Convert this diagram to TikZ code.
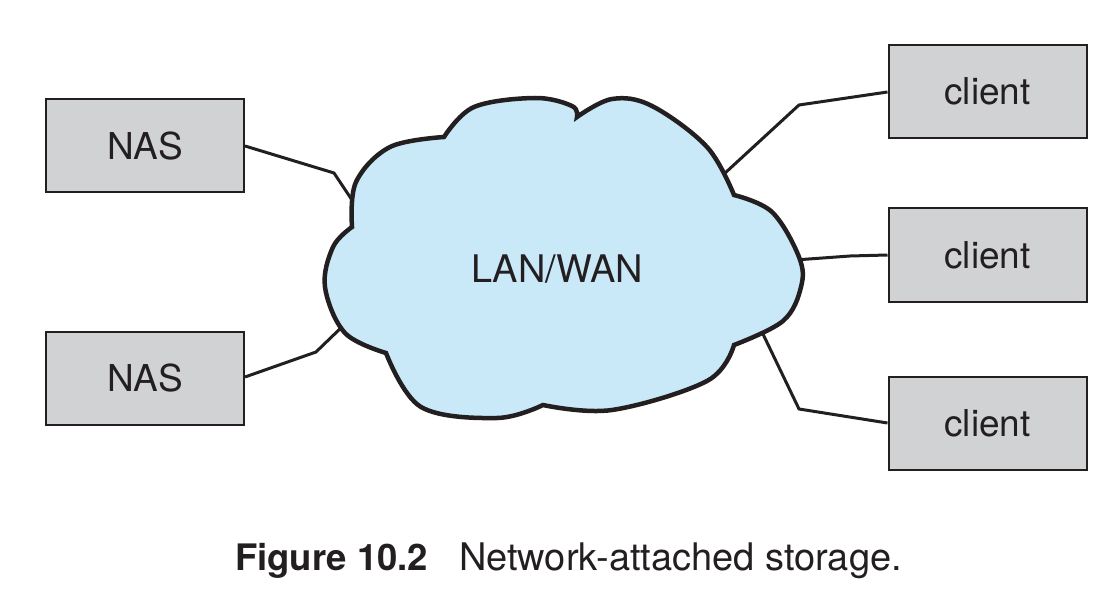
\documentclass[tikz,border=0pt]{standalone}
\usepackage{fontspec}
\setmainfont{TeX Gyre Heros}
\definecolor{cloudfill}{HTML}{C9E9F8}
\definecolor{boxfill}{HTML}{D1D2D4}
\definecolor{ink}{HTML}{231F20}
\begin{document}
\begin{tikzpicture}[x=1pt,y=-1pt,
  devbox/.style={draw=ink, line width=2pt, fill=boxfill, minimum width=198pt, minimum height=93pt, inner sep=0pt, font=\fontsize{37}{42}\selectfont, text=ink},
  link/.style={draw=ink, line width=3pt, line join=miter},
  cloudline/.style={draw=ink, line width=4.5pt, fill=cloudfill, line join=miter}]
\useasboundingbox (0,0) rectangle (1114,596);
% devices
\node[devbox] (nas1) at (145,146) {NAS};
\node[devbox] (nas2) at (145,378) {NAS};
\node[devbox] (c1) at (987.5,91.5) {client};
\node[devbox] (c2) at (987.5,255) {client};
\node[devbox] (c3) at (987.5,423) {client};
% bends and cloud contacts
\coordinate (b1) at (334,173);
\coordinate (e1) at (356,206);
\coordinate (b2) at (316,352);
\coordinate (e2) at (345,324);
\coordinate (b3) at (799,105);
\coordinate (e3) at (724,174);
\coordinate (b4) at (850,256);
\coordinate (e4) at (795,260);
\coordinate (b5) at (799,409);
\coordinate (e5) at (762,332);
\draw[link] (nas1.east |- 0,146) -- (b1) -- (e1);
\draw[link] (nas2.east |- 0,377) -- (b2) -- (e2);
\draw[link] (c1.west |- 0,92) -- (b3) -- (e3);
\draw[link] (c2.west |- 0,255) -- (b4) -- (e4);
\draw[link] (c3.west |- 0,423) -- (b5) -- (e5);
% cloud
\draw[cloudline]
  (352,227)
  -- plot[smooth,tension=0.6] coordinates {(352,227) (356,182) (390,147) (444,137)}
  -- plot[smooth,tension=0.6] coordinates {(444,137) (474,107) (535,98) (572,106) (577,117)}
  -- plot[smooth,tension=0.6] coordinates {(577,117) (612,99) (652,106) (707,147) (734,195)}
  -- plot[smooth,tension=0.6] coordinates {(734,195) (772,212) (799,257) (801,287) (783,321) (734,345)}
  -- plot[smooth,tension=0.6] coordinates {(734,345) (707,381) (612,410) (543,405)}
  -- plot[smooth,tension=0.6] coordinates {(543,405) (497,418) (421,407) (386,353)}
  -- plot[smooth,tension=0.6] coordinates {(386,353) (345,333) (325,287) (333,247) (352,227)}
  -- cycle;
\node[font=\fontsize{38}{42}\selectfont, text=ink] (lan) at (557,269) {LAN/WAN};
% caption
\node[anchor=base west, font=\fontsize{38}{42}\selectfont, text=ink, inner sep=0pt] (cap) at (235,570) {{\fontsize{36.5}{42}\selectfont\bfseries Figure 10.2}\hspace{31pt}Network-attached storage.};
\end{tikzpicture}
\end{document}
